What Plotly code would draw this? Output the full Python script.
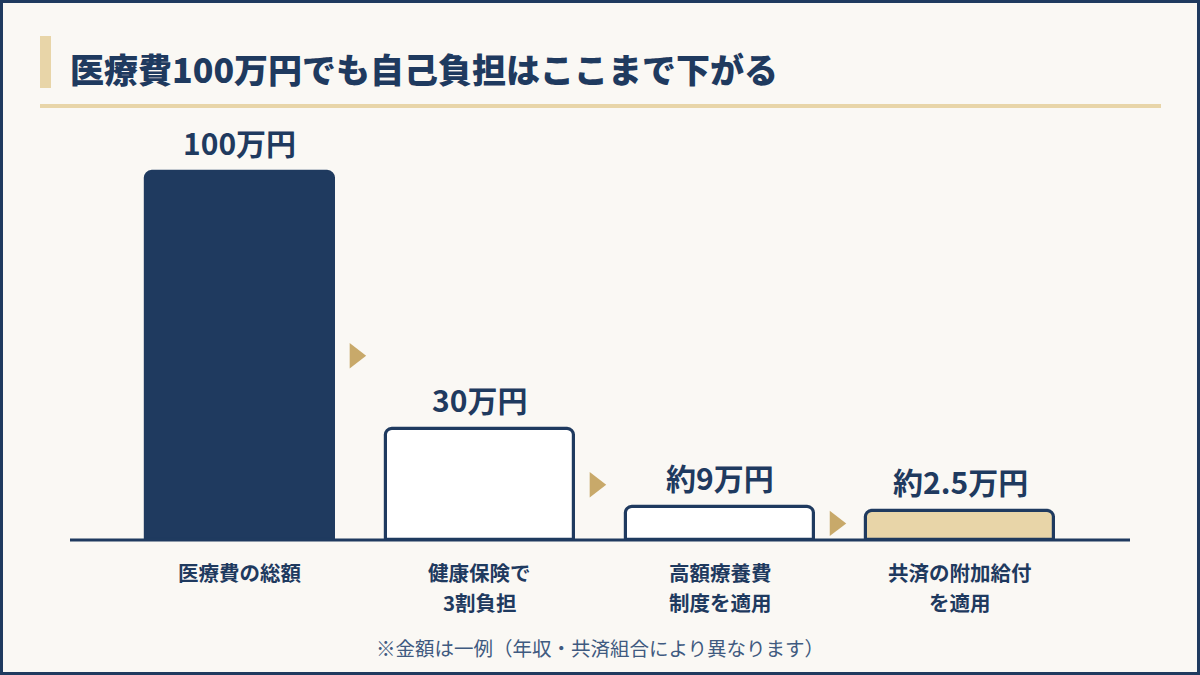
import plotly.graph_objects as go

# ---- data ----
categories = ["医療費の総額", "健康保険で\n3割負担", "高額療養費\n制度を適用", "共済の附加給付\nを適用"]
amounts = [100, 30, 9, 2.5]  # 万円
value_labels = ["100万円", "30万円", "約9万円", "約2.5万円"]
bar_fills = ["#1F3A5F", "#FFFFFF", "#FFFFFF", "#E8D5A8"]
title_text = "医療費100万円でも自己負担はここまで下がる"
footnote_text = "※金額は一例（年収・共済組合により異なります）"

# ---- style ----
NAVY = "#1F3A5F"
GOLD = "#C8A96A"
GOLD_LIGHT = "#E8D5A8"
BG = "#FAF8F4"
NOTE = "#3F5A80"
FONT = "Noto Sans CJK JP"

W, H = 1200, 675
ML, MR, MT, MB = 70, 70, 120, 135
Y_MAX = 114
X_PAD = 0.708
MIN_VISIBLE = 8  # minimum drawn height so tiny bars stay visible

display = [max(v, MIN_VISIBLE) for v in amounts]
xs = list(range(len(categories)))


def px_x(p):
    return (p - ML) / (W - ML - MR)


def px_y(p):
    return (H - MB - p) / (H - MT - MB)


fig = go.Figure()
fig.add_trace(go.Bar(
    x=xs, y=display, width=0.78,
    marker=dict(color=bar_fills, line=dict(color=NAVY, width=3.2), cornerradius=7),
    hoverinfo="skip", showlegend=False,
))
fig.add_trace(go.Scatter(
    x=[i + 0.48 for i in xs[:-1]],
    y=[display[i] / 2 for i in xs[:-1]],
    mode="markers",
    marker=dict(symbol="triangle-right", size=22, color=GOLD, line=dict(width=0)),
    hoverinfo="skip", showlegend=False,
))

annotations = []
for i, lab in enumerate(value_labels):
    annotations.append(dict(
        x=xs[i], y=display[i], xref="x", yref="y", text=lab, showarrow=False,
        yanchor="bottom", xanchor="center", yshift=6,
        font=dict(family=FONT, size=30, color=NAVY, weight=700),
    ))
for i, cat in enumerate(categories):
    for j, line in enumerate(cat.split("\n")):
        annotations.append(dict(
            x=xs[i], y=0, xref="x", yref="y", text=line, showarrow=False,
            yanchor="middle", xanchor="center", yshift=-(32 + 30 * j),
            font=dict(family=FONT, size=20.5, color=NAVY, weight=700),
        ))
annotations.append(dict(
    x=0.5, y=px_y(647), xref="paper", yref="paper", text=footnote_text,
    showarrow=False, xanchor="center", yanchor="middle",
    font=dict(family=FONT, size=19.5, color=NOTE),
))
annotations.append(dict(
    x=px_x(68), y=px_y(68), xref="paper", yref="paper", text=title_text,
    showarrow=False, xanchor="left", yanchor="middle",
    font=dict(family=FONT, size=34, color=NAVY, weight=800),
))

shapes = [
    # outer border
    dict(type="rect", xref="paper", yref="paper",
         x0=px_x(1.5), x1=px_x(W - 1.5), y0=px_y(1.5), y1=px_y(H - 1.5),
         line=dict(color=NAVY, width=3), fillcolor="rgba(0,0,0,0)", layer="above"),
    # title accent bar
    dict(type="rect", xref="paper", yref="paper",
         x0=px_x(40), x1=px_x(51), y0=px_y(36), y1=px_y(88),
         line=dict(width=0), fillcolor=GOLD_LIGHT),
    # divider under title
    dict(type="rect", xref="paper", yref="paper",
         x0=px_x(40), x1=px_x(1161), y0=px_y(104), y1=px_y(108),
         line=dict(width=0), fillcolor=GOLD_LIGHT),
    # baseline (bottom of plot area = value 0)
    dict(type="line", xref="paper", yref="paper", x0=0, x1=1, y0=0, y1=0,
         line=dict(color=NAVY, width=3), layer="above"),
]

fig.update_layout(
    width=W, height=H,
    margin=dict(l=ML, r=MR, t=MT, b=MB),
    paper_bgcolor=BG, plot_bgcolor=BG,
    xaxis=dict(range=[-X_PAD, xs[-1] + X_PAD], visible=False, fixedrange=True),
    yaxis=dict(range=[0, Y_MAX], visible=False, fixedrange=True),
    annotations=annotations, shapes=shapes,
    font=dict(family=FONT, color=NAVY),
    bargap=0,
)

fig.write_html("out.html", config={"displayModeBar": False})
